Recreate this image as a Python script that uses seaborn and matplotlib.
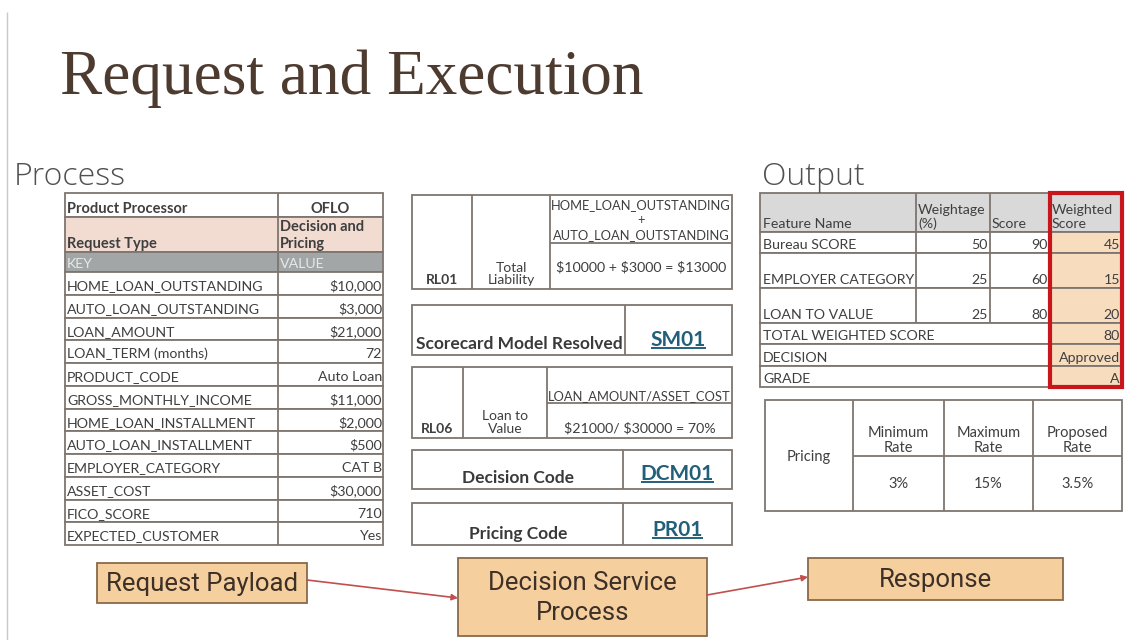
import matplotlib
matplotlib.use("Agg")
import matplotlib.pyplot as plt
import seaborn as sns
from matplotlib.patches import Rectangle, FancyArrowPatch

sns.set_theme(style="white")
plt.rcParams['font.family'] = ['Lato', 'DejaVu Sans']

# ---------------- data ----------------
title_text = "Request and Execution"
section_left = "Process"
section_right = "Output"

header_labels = ["Product Processor", "Request Type", "KEY"]
header_values = ["OFLO", "Decision and\nPricing", "VALUE"]
request_keys = ["HOME_LOAN_OUTSTANDING", "AUTO_LOAN_OUTSTANDING", "LOAN_AMOUNT",
                "LOAN_TERM (months)", "PRODUCT_CODE", "GROSS_MONTHLY_INCOME",
                "HOME_LOAN_INSTALLMENT", "AUTO_LOAN_INSTALLMENT", "EMPLOYER_CATEGORY",
                "ASSET_COST", "FICO_SCORE", "EXPECTED_CUSTOMER"]
request_values = ["$10,000", "$3,000", "$21,000", "72", "Auto Loan", "$11,000",
                  "$2,000", "$500", "CAT B", "$30,000", "710", "Yes"]

rule_ids = ["RL01", "RL06"]
rule_names = ["Total\nLiability", "Loan to\nValue"]
rule_formulas = [["HOME_LOAN_OUTSTANDING", "+", "AUTO_LOAN_OUTSTANDING"],
                 ["LOAN_AMOUNT/ASSET_COST"]]
rule_results = ["$10000 + $3000 = $13000", "$21000/ $30000 = 70%"]
code_labels = ["Scorecard Model Resolved", "Decision Code", "Pricing Code"]
code_values = ["SM01", "DCM01", "PR01"]

out_headers = ["Feature Name", "Weightage\n(%)", "Score", "Weighted\nScore"]
features = ["Bureau SCORE", "EMPLOYER CATEGORY", "LOAN TO VALUE"]
weightage = [50, 25, 25]
scores = [90, 60, 80]
weighted_scores = [45, 15, 20]
summary_labels = ["TOTAL WEIGHTED SCORE", "DECISION", "GRADE"]
summary_values = ["80", "Approved", "A"]

pricing_label = "Pricing"
pricing_headers = ["Minimum\nRate", "Maximum\nRate", "Proposed\nRate"]
pricing_values = ["3%", "15%", "3.5%"]

flow_steps = ["Request Payload", "Decision Service\nProcess", "Response"]

# ---------------- styles ----------------
TXT = "#3f3f3f"
GRID = "#7d7570"
BROWN = "#4e3b30"
TEAL = "#22607a"
LW = 1.3

fig = plt.figure(figsize=(11.26, 6.40), dpi=100)
ax = fig.add_axes([0, 0, 1, 1])
ax.set_xlim(0, 1126)
ax.set_ylim(640, 0)
ax.axis("off")


def box(x0, y0, x1, y1, fc="none", ec=GRID, lw=LW, z=1):
    ax.add_patch(Rectangle((x0, y0), x1 - x0, y1 - y0, facecolor=fc,
                           edgecolor=ec, linewidth=lw, zorder=z))


def hline(y, x0, x1, c=GRID, lw=LW, z=2):
    ax.plot([x0, x1], [y, y], color=c, lw=lw, zorder=z, solid_capstyle="butt")


def vline(x, y0, y1, c=GRID, lw=LW, z=2):
    ax.plot([x, x], [y0, y1], color=c, lw=lw, zorder=z, solid_capstyle="butt")


def txt(x, y, s, size=11, ha="left", va="baseline", c=TXT, w="normal", **kw):
    return ax.text(x, y, s, fontsize=size, ha=ha, va=va, color=c, fontweight=w,
                   zorder=5, parse_math=False, **kw)


# left slide border
vline(7, 12, 640, c="#c8c8c8", lw=1.0)

# title and section headings
txt(60, 94, title_text, size=45.5, c=BROWN, family=["Liberation Serif", "DejaVu Serif"])
txt(14, 185, section_left, size=23, c="#505050", w="light",
    family=["Open Sans", "DejaVu Sans"])
txt(762, 185, section_right, size=23, c="#505050", w="light",
    family=["Open Sans", "DejaVu Sans"])

# ---------------- left request table ----------------
LX0, LXM, LX1 = 65, 278, 383
FS = 10.2
hdr_rows = [(193, 217, "white"), (217, 252, "#f2dcd1"), (252, 272, "#a2a6a6")]
for (y0, y1, fc), lab, val in zip(hdr_rows, header_labels, header_values):
    box(LX0, y0, LX1, y1, fc=fc, ec=GRID, z=1)
    vline(LXM, y0, y1)
    if lab == "KEY":
        txt(LX0 + 2, y1 - 4, lab, size=FS, c="#e8e8e8")
        txt(LXM + 2, y1 - 4, val, size=FS, c="#e8e8e8")
    elif lab == "Product Processor":
        txt(LX0 + 2, y1 - 4, lab, size=10.5, w="bold")
        txt((LXM + LX1) / 2, y1 - 4, val, size=10.5, w="bold", ha="center")
    else:
        txt(LX0 + 2, y1 - 4, lab, size=10.5, w="bold")
        txt(LXM + 2, y1 - 4, val, size=10.5, w="bold", linespacing=1.25)

row_h = (545 - 272) / len(request_keys)
for i, (k, v) in enumerate(zip(request_keys, request_values)):
    y0 = 272 + i * row_h
    y1 = y0 + row_h
    box(LX0, y0, LX1, y1, fc="white")
    vline(LXM, y0, y1)
    txt(LX0 + 2, y1 - 4.5, k, size=FS)
    txt(LX1 - 1, y1 - 4.5, v, size=FS, ha="right")

# ---------------- middle rule boxes ----------------
rule_geo = [dict(y0=195, ym=243, y1=289, c1=472, c2=550),
            dict(y0=367, ym=403, y1=438, c1=463, c2=547)]
MX0, MX1 = 412, 732
for g, rid, rname, form, res in zip(rule_geo, rule_ids, rule_names,
                                     rule_formulas, rule_results):
    box(MX0, g["y0"], MX1, g["y1"], fc="white")
    vline(g["c1"], g["y0"], g["y1"])
    vline(g["c2"], g["y0"], g["y1"])
    hline(g["ym"], g["c2"], MX1)
    txt((MX0 + g["c1"]) / 2, g["y1"] - 5, rid, size=10, w="bold", ha="center")
    txt((g["c1"] + g["c2"]) / 2, g["y1"] - 5, rname, size=10, ha="center",
        linespacing=1.05)
    cx = (g["c2"] + MX1) / 2
    if len(form) > 1:
        for j, line in enumerate(form):
            txt(cx, g["ym"] - 4 - (len(form) - 1 - j) * 15, line, size=9.3, ha="center")
        txt(cx, (g["ym"] + g["y1"]) / 2 + 1, res, size=10.3, ha="center", va="center")
    else:
        txt(cx, g["ym"] - 3, form[0], size=9.3, ha="center")
        txt(cx, g["y1"] - 5, res, size=10.3, ha="center")

code_geo = [(305, 355, 625), (450, 489, 623), (503, 545, 623)]
for (y0, y1, xd), lab, val in zip(code_geo, code_labels, code_values):
    box(MX0, y0, MX1, y1, fc="white")
    vline(xd, y0, y1)
    txt((MX0 + xd) / 2 + 1, y1 - 6, lab, size=12.5, w="bold", ha="center", c="#3a3a3a")
    t = txt((xd + MX1) / 2, y1 - 9, val, size=15, w="bold", ha="center", c=TEAL)
    fig.canvas.draw()
    bb = t.get_window_extent().transformed(ax.transData.inverted())
    hline(y1 - 7, bb.x0, bb.x1, c=TEAL, lw=1.4, z=6)

# ---------------- output table ----------------
OX = [760, 916, 990, 1050, 1122]
OY_h0, OY_h1 = 193, 232
OFS = 10.2
feat_rows = [(232, 253), (253, 288), (288, 323)]
sum_rows = [(323, 344), (344, 366), (366, 387)]

box(OX[0], OY_h0, OX[4], OY_h1, fc="#d9d9d9")
for x in OX[1:4]:
    vline(x, OY_h0, OY_h1)
hdr_pos = [OX[0] + 3, OX[1] + 2, OX[2] + 2, OX[3] + 2]
for x, h in zip(hdr_pos, out_headers):
    txt(x, OY_h1 - 4, h, size=OFS, linespacing=1.15)

for (y0, y1), f, wv, sv, ws in zip(feat_rows, features, weightage, scores, weighted_scores):
    box(OX[0], y0, OX[3], y1, fc="white")
    box(OX[3], y0, OX[4], y1, fc="#f8dcbe")
    for x in OX[1:4]:
        vline(x, y0, y1)
    txt(OX[0] + 3, y1 - 4, f, size=OFS)
    txt(OX[2] - 2, y1 - 4, str(wv), size=OFS, ha="right")
    txt(OX[3] - 2, y1 - 4, str(sv), size=OFS, ha="right")
    txt(OX[4] - 2, y1 - 4, str(ws), size=OFS, ha="right")

for (y0, y1), lab, val in zip(sum_rows, summary_labels, summary_values):
    box(OX[0], y0, OX[3], y1, fc="white")
    box(OX[3], y0, OX[4], y1, fc="#f8dcbe")
    txt(OX[0] + 3, y1 - 4, lab, size=OFS)
    txt(OX[4] - 2, y1 - 4, val, size=OFS, ha="right")

# red highlight around weighted score column
ax.add_patch(Rectangle((OX[3], OY_h0), OX[4] - OX[3], sum_rows[-1][1] - OY_h0,
                       facecolor="none", edgecolor="#c8161d", linewidth=3, zorder=7))

# ---------------- pricing table ----------------
PX = [765, 853, 944, 1033, 1122]
PY0, PYM, PY1 = 400, 456, 511
box(PX[0], PY0, PX[4], PY1, fc="white")
for x in PX[1:4]:
    vline(x, PY0, PY1)
hline(PYM, PX[1], PX[4])
txt((PX[0] + PX[1]) / 2, (PY0 + PY1) / 2 + 1, pricing_label, size=10.5,
    ha="center", va="center")
for i, (h, v) in enumerate(zip(pricing_headers, pricing_values)):
    cx = (PX[i + 1] + PX[i + 2]) / 2
    txt(cx, PYM - 4, h, size=10.5, ha="center", linespacing=1.05)
    txt(cx, (PYM + PY1) / 2 + 1, v, size=10.5, ha="center", va="center")

# ---------------- flow ----------------
flow_geo = [(97, 563, 307, 603), (458, 558, 707, 636), (808, 558, 1063, 600)]
for (x0, y0, x1, y1), s in zip(flow_geo, flow_steps):
    box(x0, y0, x1, y1, fc="#f6cf9e", ec="#8a6a48", lw=1.3, z=3)
    txt((x0 + x1) / 2, (y0 + y1) / 2 + 1, s, size=18.5, ha="center", va="center",
        c="#3d3028", linespacing=1.3, w="normal",
        family=["Roboto", "DejaVu Sans"])

arrows = [((307, 580), (458, 598)), ((707, 595), (808, 577))]
for a, b in arrows:
    ax.add_patch(FancyArrowPatch(a, b, arrowstyle="-|>", mutation_scale=9,
                                 color="#c0504d", lw=1.2, zorder=4,
                                 shrinkA=0, shrinkB=0))

fig.savefig("out.png", dpi=100, facecolor="white")
